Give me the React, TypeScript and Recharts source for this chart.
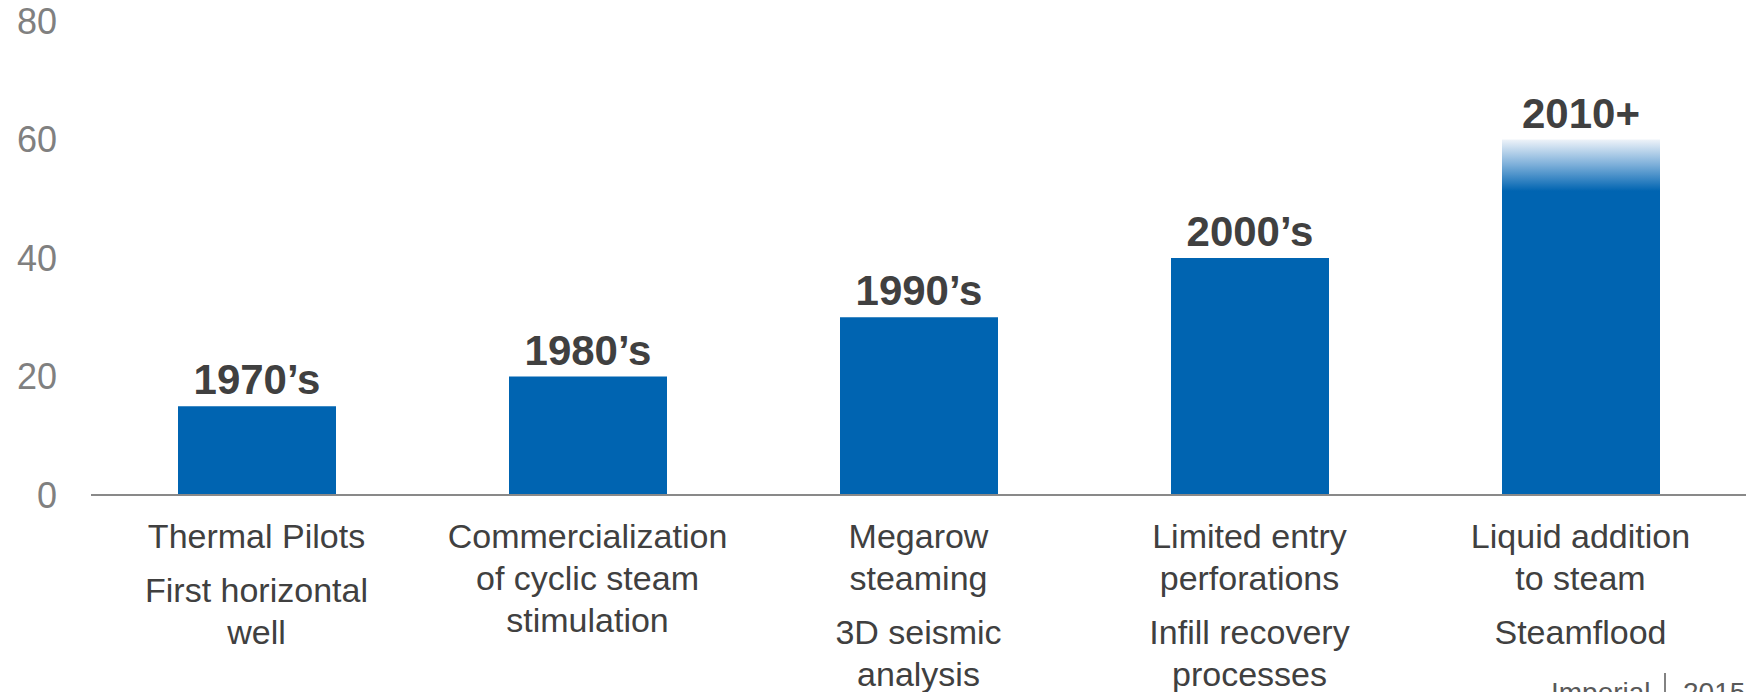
import { BarChart, Bar, XAxis, YAxis, Cell, LabelList } from "recharts";

const eras = ["1970’s", "1980’s", "1990’s", "2000’s", "2010+"];
const values = [15, 20, 30, 40, 60];
// each era: paragraphs of wrapped lines shown under the axis
const milestones = [
  [["Thermal Pilots"], ["First horizontal", "well"]],
  [["Commercialization", "of cyclic steam", "stimulation"]],
  [["Megarow", "steaming"], ["3D seismic", "analysis"]],
  [["Limited entry", "perforations"], ["Infill recovery", "processes"]],
  [["Liquid addition", "to steam"], ["Steamflood"]],
];
const yTicks = [0, 20, 40, 60, 80];

const data = eras.map((era, i) => ({ era, value: values[i] }));

const FONT = '"Liberation Sans", Arial, sans-serif';
const BLUE = "#0064b1";
const TEXT = "#404040";

function MilestoneTick(props: any) {
  const { x, y, payload } = props;
  const paras = milestones[eras.indexOf(payload.value)] ?? [];
  const rows: any[] = [];
  let dy = 53;
  paras.forEach((lines, p) => {
    if (p > 0) dy += 12;
    lines.forEach((line, l) => {
      rows.push(
        <text
          key={`${p}-${l}`}
          x={x}
          y={y + dy}
          textAnchor="middle"
          fill={TEXT}
          fontSize={34}
          fontFamily={FONT}
        >
          {line}
        </text>
      );
      dy += 42;
    });
  });
  return <g>{rows}</g>;
}

export default function App() {
  return (
    <div
      style={{
        position: "absolute",
        left: 0,
        top: 0,
        width: 1747,
        height: 692,
        overflow: "hidden",
        background: "#fff",
        fontFamily: FONT,
      }}
    >
      <BarChart
        width={1747}
        height={692}
        data={data}
        margin={{ top: 21, right: 1, left: 0, bottom: 0 }}
      >
        <defs>
          <linearGradient id="fadeTop" x1="0" y1="0" x2="0" y2="1">
            <stop offset="0" stopColor="#eef3f9" />
            <stop offset="0.07" stopColor="#7eb0da" />
            <stop offset="0.145" stopColor={BLUE} />
            <stop offset="1" stopColor={BLUE} />
          </linearGradient>
        </defs>
        <XAxis
          dataKey="era"
          interval={0}
          height={197}
          tickLine={false}
          tickSize={0}
          tickMargin={0}
          axisLine={{ stroke: "#898989", strokeWidth: 2 }}
          tick={(p: any) => <MilestoneTick {...p} />}
        />
        <YAxis
          domain={[0, 80]}
          ticks={yTicks}
          width={91}
          axisLine={false}
          tickLine={false}
          tickSize={0}
          tickMargin={34}
          tick={{ fill: "#808080", fontSize: 36, fontFamily: FONT }}
        />
        <Bar dataKey="value" barSize={158} isAnimationActive={false}>
          {data.map((d, i) => (
            <Cell key={d.era} fill={i === data.length - 1 ? "url(#fadeTop)" : BLUE} />
          ))}
          <LabelList
            dataKey="era"
            position="top"
            offset={12}
            fill={TEXT}
            fontSize={42}
            fontWeight="bold"
            fontFamily={FONT}
          />
        </Bar>
      </BarChart>
      <svg
        width={1747}
        height={692}
        style={{ position: "absolute", left: 0, top: 0, pointerEvents: "none" }}
      >
        <text x={1551} y={702} fill="#595959" fontSize={28} fontFamily={FONT}>
          Imperial
        </text>
        <line x1={1665} y1={673} x2={1665} y2={692} stroke="#595959" strokeWidth={1.5} />
        <text x={1683} y={702} fill="#595959" fontSize={28} fontFamily={FONT}>
          2015
        </text>
      </svg>
    </div>
  );
}
